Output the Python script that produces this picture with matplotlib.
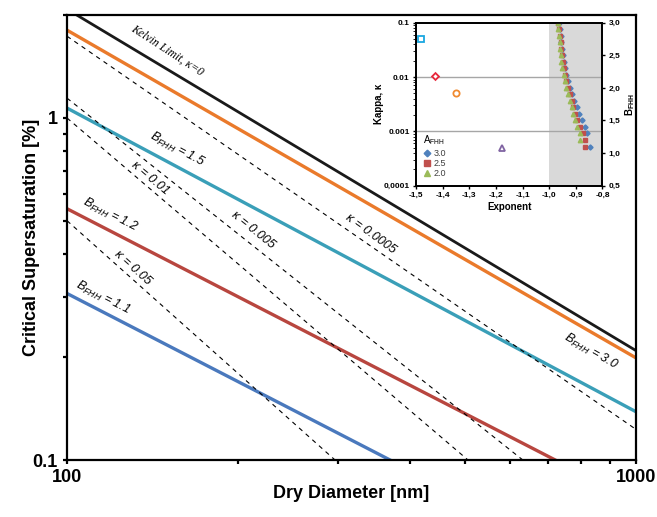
import matplotlib
matplotlib.use('Agg')
import matplotlib.pyplot as plt
from matplotlib.ticker import NullFormatter

plt.rcParams['font.family'] = ['Liberation Sans', 'DejaVu Sans']
plt.rcParams['mathtext.fontset'] = 'custom'
plt.rcParams['mathtext.rm'] = 'Liberation Sans'
plt.rcParams['mathtext.it'] = 'Liberation Sans:italic'
plt.rcParams['mathtext.bf'] = 'Liberation Sans:bold'

# main chart, start/end points of each line
kelvin_d = [100, 1000]
kelvin_s = [2.08, 0.209]

fhh_b = ['3.0', '1.5', '1.2', '1.1']
fhh_d = [[100, 1000], [100, 1000], [100, 722], [100, 370]]
fhh_s = [[1.806, 0.199], [1.069, 0.1385], [0.543, 0.1], [0.307, 0.1]]
fhh_colors = ['#ea7a2b', '#3a9fb8', '#b8463f', '#4a79bd']

kappa_vals = ['0.0005', '0.005', '0.01', '0.05']
kappa_d = [[100, 1000], [100, 633], [100, 507], [100, 296]]
kappa_s = [[1.734, 0.123], [1.143, 0.1], [1.0, 0.1], [0.501, 0.1]]

# inset: kappa vs fitted exponent
inset_kappa = [0.05, 0.0105, 0.005, 0.0005]
inset_kappa_exp = [-1.479, -1.429, -1.349, -1.178]
inset_kappa_markers = ['s', 'D', 'o', '^']
inset_kappa_colors = ['#1aa7e0', '#e8283c', '#f08a30', '#8064a2']

# inset: B_FHH vs exponent for three A_FHH values
b_a30 = [3.0, 2.9, 2.8, 2.7, 2.6, 2.5, 2.4, 2.3, 2.2, 2.1, 2.0, 1.9, 1.8, 1.7, 1.6, 1.5, 1.4, 1.3, 1.1]
exp_a30 = [-0.964, -0.960, -0.957, -0.954, -0.952, -0.949, -0.946, -0.941, -0.936, -0.930,
           -0.923, -0.914, -0.906, -0.896, -0.887, -0.877, -0.867, -0.857, -0.848]
b_a25 = [3.0, 2.9, 2.8, 2.7, 2.6, 2.5, 2.4, 2.3, 2.2, 2.1, 2.0, 1.9, 1.8, 1.7, 1.6, 1.5, 1.4, 1.3, 1.2, 1.1]
exp_a25 = [-0.966, -0.962, -0.960, -0.957, -0.955, -0.952, -0.949, -0.945, -0.940, -0.935,
           -0.929, -0.922, -0.916, -0.909, -0.902, -0.894, -0.885, -0.872, -0.864, -0.867]
b_a20 = [3.0, 2.9, 2.8, 2.7, 2.6, 2.5, 2.4, 2.3, 2.2, 2.1, 2.0, 1.9, 1.8, 1.7, 1.6, 1.5, 1.4, 1.3, 1.2]
exp_a20 = [-0.968, -0.965, -0.963, -0.961, -0.959, -0.956, -0.954, -0.950, -0.946, -0.941,
           -0.935, -0.929, -0.923, -0.916, -0.909, -0.902, -0.894, -0.884, -0.886]

fig = plt.figure(figsize=(6.57, 5.17), dpi=100)
ax = fig.add_axes([0.102, 0.110, 0.866, 0.861])

ax.plot(kelvin_d, kelvin_s, color='#1a1a1a', lw=2.0)
for d, s, c in zip(fhh_d, fhh_s, fhh_colors):
    ax.plot(d, s, color=c, lw=2.4)
for d, s in zip(kappa_d, kappa_s):
    ax.plot(d, s, color='black', lw=0.8, ls=(0, (4, 4)))

ax.set_xscale('log')
ax.set_yscale('log')
ax.set_xlim(100, 1000)
ax.set_ylim(0.1, 2.0)
ax.set_xticks([100, 1000])
ax.set_xticklabels(['100', '1000'])
ax.set_yticks([0.1, 1])
ax.set_yticklabels(['0.1', '1'])
ax.set_xticks([200, 300, 400, 500, 600, 700, 800, 900], minor=True)
ax.set_yticks([0.2, 0.3, 0.4, 0.5, 0.6, 0.7, 0.8, 0.9, 2.0], minor=True)
ax.xaxis.set_minor_formatter(NullFormatter())
ax.yaxis.set_minor_formatter(NullFormatter())
ax.tick_params(which='both', direction='out', length=3, width=1.6, labelsize=13)
for lab in ax.get_xticklabels() + ax.get_yticklabels():
    lab.set_fontweight('bold')
for sp in ax.spines.values():
    sp.set_linewidth(1.6)
ax.set_xlabel('Dry Diameter [nm]', fontsize=13, fontweight='bold', labelpad=-1)
ax.set_ylabel('Critical Supersaturation [%]', fontsize=13, fontweight='bold', labelpad=-5)

# line labels
def lab(fx, fy, txt, rot, **kw):
    ax.text(fx, fy, txt, transform=ax.transAxes, rotation=rot, ha='center', va='center',
            rotation_mode='anchor', **kw)

lab(0.176, 0.921, 'Kelvin Limit, κ=0', -33, family='Liberation Serif', style='italic', fontsize=8.5)
lab(0.193, 0.697, r'$B_{FHH}$ = ' + fhh_b[1], -28, style='italic', fontsize=9)
lab(0.076, 0.551, r'$B_{FHH}$ = ' + fhh_b[2], -27, style='italic', fontsize=9)
lab(0.063, 0.364, r'$B_{FHH}$ = ' + fhh_b[3], -27, style='italic', fontsize=9)
lab(0.921, 0.245, r'$B_{FHH}$ = ' + fhh_b[0], -30, style='italic', fontsize=9)
lab(0.534, 0.508, 'κ = ' + kappa_vals[0], -36, style='italic', fontsize=9)
lab(0.327, 0.517, 'κ = ' + kappa_vals[1], -39, style='italic', fontsize=9)
lab(0.146, 0.634, 'κ = ' + kappa_vals[2], -40, style='italic', fontsize=9)
lab(0.116, 0.432, 'κ = ' + kappa_vals[3], -42, style='italic', fontsize=9)

# inset
ins = fig.add_axes([0.633, 0.641, 0.284, 0.315])
ins.axvspan(-1.0, -0.8, color='#d9d9d9', lw=0, zorder=0)
ins.set_xlim(-1.5, -0.8)
ins.set_yscale('log')
ins.set_ylim(0.0001, 0.1)
ins.axhline(0.01, color='#a6a6a6', lw=1.0, zorder=1)
ins.axhline(0.001, color='#a6a6a6', lw=1.0, zorder=1)
for x, y, m, c in zip(inset_kappa_exp, inset_kappa, inset_kappa_markers, inset_kappa_colors):
    ins.plot([x], [y], marker=m, ms=4.5 if m != 'D' else 3.5, mfc='white', mec=c, mew=1.3, ls='none', zorder=3)
ins.set_xticks([-1.5, -1.4, -1.3, -1.2, -1.1, -1.0, -0.9, -0.8])
ins.set_xticklabels(['-1,5', '-1,4', '-1,3', '-1,2', '-1,1', '-1,0', '-0,9', '-0,8'])
ins.set_yticks([0.0001, 0.001, 0.01, 0.1])
ins.set_yticklabels(['0,0001', '0.001', '0.01', '0.1'])
ins.yaxis.set_minor_formatter(NullFormatter())
ins.tick_params(axis='y', which='minor', left=False)
ins.tick_params(which='major', direction='out', length=2.5, width=1, labelsize=6, pad=2)
for l in ins.get_xticklabels() + ins.get_yticklabels():
    l.set_fontweight('bold')
for sp in ins.spines.values():
    sp.set_linewidth(1.3)
ins.set_xlabel('Exponent', fontsize=7, fontweight='bold', labelpad=2)
ins.set_ylabel('Kappa, κ', fontsize=7, fontweight='bold', labelpad=0)

ins2 = ins.twinx()
ins2.set_ylim(0.5, 3.0)
h1, = ins2.plot(exp_a30, b_a30, 'D', color='#4f81bd', ms=2.6, ls='none', label='3.0')
h2, = ins2.plot(exp_a25, b_a25, 's', color='#c0504d', ms=3.4, ls='none', label='2.5')
h3, = ins2.plot(exp_a20, b_a20, '^', color='#9bbb59', ms=3.2, ls='none', label='2.0')
ins2.set_yticks([0.5, 1.0, 1.5, 2.0, 2.5, 3.0])
ins2.set_yticklabels(['0,5', '1,0', '1,5', '2,0', '2,5', '3,0'])
ins2.tick_params(direction='out', length=2.5, width=1, labelsize=6, pad=2)
for l in ins2.get_yticklabels():
    l.set_fontweight('bold')
ins2.set_ylabel(r'$\mathbf{B_{FHH}}$', fontsize=7, labelpad=2)
for sp in ins2.spines.values():
    sp.set_linewidth(1.3)

leg = ins.legend([h1, h2, h3], ['3.0', '2.5', '2.0'], title=r'A$_\mathregular{FHH}$',
                 loc='lower left', bbox_to_anchor=(0.0, 0.0), frameon=False, fontsize=6.5,
                 title_fontsize=7, handlelength=0.8, handletextpad=0.4, labelspacing=0.15,
                 borderpad=0.3, alignment='left', markerscale=1.3)
for t in leg.get_texts():
    t.set_color('#404040')

fig.savefig('out.png', dpi=100)
